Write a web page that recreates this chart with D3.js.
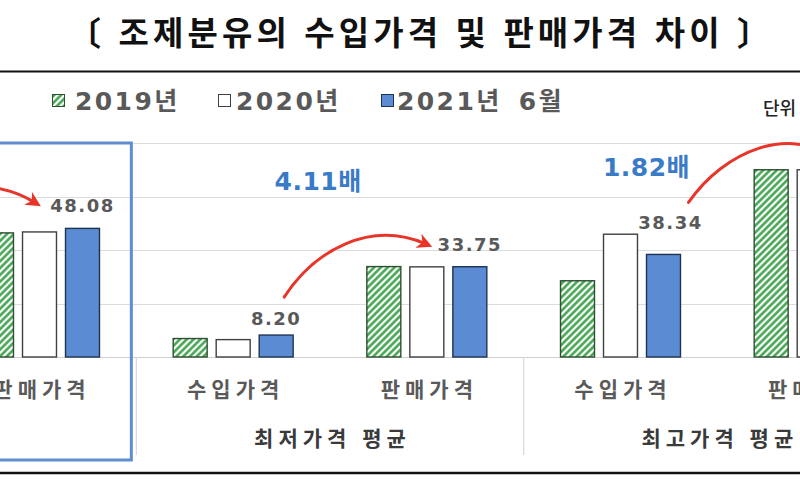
<!DOCTYPE html>
<html lang="ko">
<head>
<meta charset="UTF-8">
<title>조제분유의 수입가격 및 판매가격 차이</title>
<script src="https://d3js.org/d3.v7.min.js"></script>
<style>
    body { margin: 0; background: #fff; }
    svg { display: block; }
</style>
</head>
<body>
<svg id="chart" width="800" height="500"></svg>
<script>
// data (값 단위는 그림에서 읽은 추정치)
const categories = ["수입가격", "판매가격", "수입가격", "판매가격", "수입가격", "판매가격"];
const groupLabels = ["평균가격", "최저가격 평균", "최고가격 평균"];
const seriesNames = ["2019년", "2020년", "2021년 6월"];
const values2019 = [17.5, 46.4, 6.9, 33.8, 28.5, 70.0];
const values2020 = [21.0, 46.75, 6.5, 33.7, 45.9, 70.0];
const values2021 = [23.27, 48.08, 8.20, 33.75, 38.34, 69.78];
const yTicks = [0, 20, 40, 60, 80];
const ratioLabels = ["", "4.11배", "1.82배"];
const titleText = "〔 조제분유의 수입가격 및 판매가격 차이 〕";
const unitText = "단위 : 원/g";

const series = [values2019, values2020, values2021];

// layout
const svg = d3.select("#chart");
const W = 800, H = 500;
const green = "#3fa34d", blue = "#5b8bd3", red = "#e8352a";
const gray = "#595959";

const x = d3.scaleBand()
    .domain(d3.range(categories.length))
    .range([-251, 911]);
const xInner = d3.scaleBand()
    .domain(d3.range(series.length))
    .range([0, 129])
    .paddingInner(0.21)
    .paddingOuter(0.105);
const y = d3.scaleLinear().domain([0, 80]).range([357, 143]);

const barX = (c, s) => x(c) + (x.bandwidth() - 129) / 2 + xInner(s);
const barMid = (c, s) => barX(c, s) + xInner.bandwidth() / 2;
const catMid = c => x(c) + x.bandwidth() / 2;

// hatch pattern
const defs = svg.append("defs");
const pat = defs.append("pattern")
    .attr("id", "hatch")
    .attr("patternUnits", "userSpaceOnUse")
    .attr("width", 4.8).attr("height", 4.8)
    .attr("patternTransform", "rotate(45)");
pat.append("rect").attr("width", 4.8).attr("height", 4.8).attr("fill", "#fff");
pat.append("line")
    .attr("x1", 2.4).attr("y1", 0).attr("x2", 2.4).attr("y2", 4.8)
    .attr("stroke", green).attr("stroke-width", 2.5);

defs.append("marker")
    .attr("id", "arrow")
    .attr("markerUnits", "userSpaceOnUse")
    .attr("viewBox", "0 0 12 12")
    .attr("refX", 6).attr("refY", 6)
    .attr("markerWidth", 15).attr("markerHeight", 15)
    .attr("orient", "auto")
    .append("path")
    .attr("d", "M0,0 L12,6 L0,12 L3.5,6 z")
    .attr("fill", red);

const fills = ["url(#hatch)", "#fff", blue];
const strokes = ["#2f4f33", "#404040", "#1f3350"];

// title
svg.append("text")
    .attr("x", 419).attr("y", 45)
    .attr("text-anchor", "middle")
    .attr("font-family", "'Noto Sans CJK KR'")
    .attr("font-weight", 700)
    .attr("font-size", 33)
    .attr("textLength", 702)
    .attr("lengthAdjust", "spacing")
    .attr("fill", "#111")
    .text(titleText);

svg.append("line")
    .attr("x1", 0).attr("x2", W).attr("y1", 71.5).attr("y2", 71.5)
    .attr("stroke", "#111").attr("stroke-width", 2);

// legend
const legendX = [52, 218, 381];
const legendGap = [23, 18, 16];
const legend = svg.append("g").selectAll("g")
    .data(seriesNames)
    .join("g")
    .attr("transform", (d, i) => `translate(${legendX[i]},94)`);
legend.append("rect")
    .attr("x", 0.5).attr("y", 0.5)
    .attr("width", 12).attr("height", 12)
    .attr("fill", (d, i) => fills[i])
    .attr("stroke", (d, i) => strokes[i])
    .attr("stroke-width", 1);
legend.append("text")
    .attr("x", (d, i) => legendGap[i])
    .attr("y", 16)
    .attr("font-family", "'DejaVu Sans', 'Noto Sans CJK KR'")
    .attr("font-weight", 700)
    .attr("font-size", 25)
    .attr("letter-spacing", 2.4)
    .attr("word-spacing", 6)
    .attr("fill", gray)
    .text(d => d);

svg.append("text")
    .attr("x", 763).attr("y", 115)
    .attr("font-family", "'Noto Sans CJK KR'")
    .attr("font-weight", 500)
    .attr("font-size", 18)
    .attr("fill", "#222")
    .text(unitText);

// gridlines
svg.append("g").selectAll("line")
    .data(yTicks)
    .join("line")
    .attr("x1", 0).attr("x2", W)
    .attr("y1", d => Math.round(y(d)) + 0.5)
    .attr("y2", d => Math.round(y(d)) + 0.5)
    .attr("stroke", d => d === 0 ? "#cfcfcf" : "#dcdcdc")
    .attr("stroke-width", 1.2);

// group separators on the axis
svg.append("g").selectAll("line")
    .data([2, 4])
    .join("line")
    .attr("x1", d => x(d)).attr("x2", d => x(d))
    .attr("y1", y(0)).attr("y2", 455)
    .attr("stroke", "#d9d9d9").attr("stroke-width", 1.2);

// bars
series.forEach((vals, s) => {
    svg.append("g").selectAll("rect")
        .data(vals)
        .join("rect")
        .attr("x", (d, c) => barX(c, s))
        .attr("y", d => y(d))
        .attr("width", xInner.bandwidth())
        .attr("height", d => y(0) - y(d))
        .attr("fill", fills[s])
        .attr("stroke", strokes[s])
        .attr("stroke-width", 1.4);
});

// category labels
svg.append("g").selectAll("text")
    .data(categories)
    .join("text")
    .attr("x", (d, c) => catMid(c) + 2.5)
    .attr("y", 397)
    .attr("text-anchor", "middle")
    .attr("font-family", "'Noto Sans CJK KR'")
    .attr("font-weight", 700)
    .attr("font-size", 21)
    .attr("letter-spacing", 5)
    .attr("fill", gray)
    .text(d => d);

svg.append("g").selectAll("text")
    .data(groupLabels)
    .join("text")
    .attr("x", (d, g) => (x(2 * g) + x(2 * g + 1) + x.bandwidth()) / 2 + 2.5)
    .attr("y", 446)
    .attr("text-anchor", "middle")
    .attr("font-family", "'Noto Sans CJK KR'")
    .attr("font-weight", 700)
    .attr("font-size", 21)
    .attr("letter-spacing", 5)
    .attr("fill", "#3a3a3a")
    .text(d => d);

// value labels for 2021 bars
const labelShift = { 1: [0, -16], 2: [0, -10], 3: [0, -16], 4: [7, -25] };
svg.append("g").selectAll("text")
    .data(Object.keys(labelShift).map(Number))
    .join("text")
    .attr("x", c => barMid(c, 2) + labelShift[c][0])
    .attr("y", c => y(values2021[c]) + labelShift[c][1])
    .attr("text-anchor", "middle")
    .attr("font-family", "'DejaVu Sans'")
    .attr("font-weight", 700)
    .attr("font-size", 18)
    .attr("letter-spacing", 1.5)
    .attr("fill", gray)
    .text(c => values2021[c].toFixed(2));

// ratio labels
const ratioShift = { 1: [85, 62.5], 2: [26, 67.5] };
svg.append("g").selectAll("text")
    .data([1, 2])
    .join("text")
    .attr("x", g => catMid(2 * g) + ratioShift[g][0])
    .attr("y", g => y(ratioShift[g][1]))
    .attr("text-anchor", "middle")
    .attr("font-family", "'DejaVu Sans', 'Noto Sans CJK KR'")
    .attr("font-weight", 700)
    .attr("font-size", 25)
    .attr("letter-spacing", 0.5)
    .attr("fill", "#3a7bc8")
    .text(g => ratioLabels[g]);

// red curved arrows: import 2021 bar -> sale label
const arrows = [
    { from: 0, to: 1, p0: [-9, -55], p1: [-80, 180], p2: [-10, 175], p3: [-5, -26] },
    { from: 2, to: 3, p0: [8, -38], p1: [315, 250], p2: [370, 220], p3: [-1.5, -23] },
    { from: 4, to: 5, p0: [25, -52], p1: [725, 150], p2: [790, 125], p3: [21, -11] }
];
arrows.forEach(a => {
    const x0 = barMid(a.from, 2) + a.p0[0], y0 = y(values2021[a.from]) + a.p0[1];
    const x3 = catMid(a.to) + a.p3[0], y3 = y(values2021[a.to]) + a.p3[1];
    const p = d3.path();
    p.moveTo(x0, y0);
    p.bezierCurveTo(a.p1[0], a.p1[1], a.p2[0], a.p2[1], x3, y3);
    svg.append("path")
        .attr("d", p.toString())
        .attr("fill", "none")
        .attr("stroke", red)
        .attr("stroke-width", 3)
        .attr("stroke-linecap", "round")
        .attr("marker-end", "url(#arrow)");
});

// highlight box round the first group
svg.append("rect")
    .attr("x", x(0) + 10)
    .attr("y", y(80))
    .attr("width", x(2) - 5 - x(0) - 10)
    .attr("height", 460 - y(80))
    .attr("fill", "none")
    .attr("stroke", "#5f8dd0")
    .attr("stroke-width", 3);

svg.append("line")
    .attr("x1", 0).attr("x2", W).attr("y1", 473).attr("y2", 473)
    .attr("stroke", "#111").attr("stroke-width", 2.5);
</script>
</body>
</html>
